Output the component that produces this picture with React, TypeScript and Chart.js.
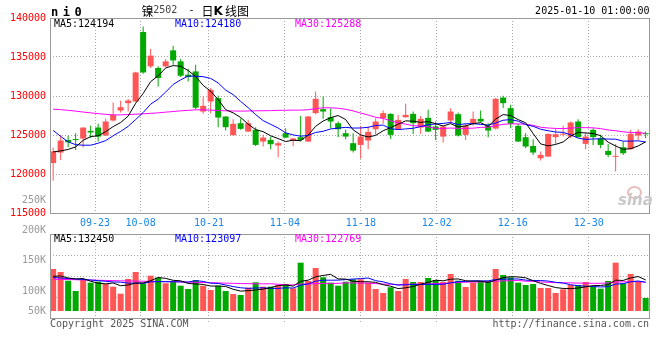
import React, { useEffect, useRef } from "react";
import { Chart, registerables } from "chart.js";

Chart.register(...registerables);

// ---------------- data ----------------
const dateTickIndex = [6, 12, 21, 31, 41, 51, 61, 71];
const dateTickLabels = ["09-23", "10-08", "10-21", "11-04", "11-18", "12-02", "12-16", "12-30"];

const opens = [121400,122750,124370,124400,124550,125530,125960,124930,126860,128140,
129080,129300,138200,133800,133590,133790,135850,134440,132730,133150,
128010,129300,129720,127370,124970,126510,125440,125660,124160,124370,
123650,125230,124290,124720,124160,127800,128310,127280,126510,125230,
123950,123730,124290,125740,127160,127710,125740,127280,127710,125960,
127200,126090,124800,126860,127670,125020,126510,127070,126170,125830,
129800,128440,126170,124720,123600,122020,122230,124720,125050,124800,
126730,123860,125660,124590,122960,122200,123430,123180,124930,125230];

const highs = [123400,125000,124890,125230,126000,126170,126430,127070,129170,129380,
129600,133100,138920,136030,133800,134740,136450,134740,133500,134010,
129940,131010,130020,127400,127030,127110,126940,126000,125020,124800,
124160,125870,124600,127450,127450,130580,129940,128440,126730,125660,
125230,126170,126090,127160,128140,127800,127580,129000,128010,127450,
128230,126730,126150,128440,127880,126430,128010,128140,126510,129700,
130020,128870,126430,125230,124460,122880,125200,125870,126170,126730,
127030,125320,125870,125020,123860,123860,124160,125660,125740,125440];

const lows = [119150,121800,123430,123090,123400,124590,124160,124900,126730,127880,
128010,129200,132850,133590,131230,133700,134010,132430,131870,128300,
127710,127800,126000,125570,124950,125660,125400,123600,123520,123180,
122150,124600,123600,124160,124100,127670,127070,125870,124720,124460,
122750,121950,123180,125020,126430,124500,125650,127200,125140,125140,
125400,124370,124030,126510,124800,124370,126170,126700,124720,125700,
128450,125870,124100,123300,122450,121720,122200,123860,124800,124590,
124700,123180,123730,123300,122150,120310,122450,123100,124370,124590];

const closes = [122900,124300,124070,124350,125950,125320,124800,126730,127580,128570,
129420,133020,133020,135170,132300,134440,134560,132600,132430,128500,
128740,130790,127240,126000,126430,125790,126510,123730,124670,123820,
123950,124670,124550,124370,127370,129640,128010,126730,125740,124800,
123000,124800,125400,126730,127800,125020,126940,127580,126510,127070,
125440,125660,126090,128010,124930,126170,127070,126730,125570,129640,
129080,126430,124160,123520,122750,122450,125140,125100,125100,126600,
124720,124800,124720,123730,122450,122260,122660,125140,125440,125100];

const volumes = [162800,154400,130200,101600,132200,124700,127500,121100,113600,94100,
135000,154400,123000,144100,138600,123000,127500,116300,107200,132200,
116300,104400,116300,101600,93300,90500,110800,125800,113600,113600,
118300,121100,109100,180300,129400,165500,139700,124700,116300,127500,
134100,134100,124700,107200,96000,111900,101600,135000,126600,126600,
137700,132200,126600,148900,130200,112700,124700,129400,129400,162800,
146100,139700,124700,118300,121100,110000,110000,96000,106300,118300,
118300,126600,113600,108000,129400,180300,123000,148900,127500,82100];

// moving-average values before enough history exists
const ma5Head = [122830, 122960, 123150, 123470];
const ma10Head = [125590, 124820, 124120, 123760, 123690, 123690, 123950, 124280, 124900];
const ma30Head = [128315,128250,128160,128060,127940,127840,127740,127650,127580,127580,
127620,127670,127710,127780,127840,127930,128010,128100,128160,128230,
128230,128190,128140,128100,128080,128060,128080,128100,128110];

const volMa5Head = [142500, 143300, 137700, 135000];
const volMa10Head = [139000, 137700, 136300, 135000, 133600, 132200, 130200, 128600, 126600];
const volMa30Head = [134100,133800,133400,132900,132400,131900,131400,130900,130400,129900,
129500,129100,128700,128300,127900,127500,127100,126700,126200,125700,
125200,124600,124000,123400,122800,122300,121900,121600,121400];

const priceTicks = [115000, 120000, 125000, 130000, 135000, 140000];
const volTickLabels = ["250K", "200K", "150K", "100K", "50K"];
const priceLegend = ["MA5:124194", "MA10:124180", "MA30:125288"];
const volLegend = ["MA5:132450", "MA10:123097", "MA30:122769"];

// ---------------- styles ----------------
const UP = "#ff5555";
const DOWN = "#00a800";
const MA_COLORS = ["#000000", "#0000ff", "#ff00ff"];
const MONO = "'DejaVu Sans Mono', monospace";
const CJK = "'Noto Sans CJK SC', sans-serif";
const GRID = "#aaaaaa";

function movingAverage(values: number[], n: number, head: number[]): number[] {
  return values.map((_, i) => {
    if (i < head.length) return head[i];
    let s = 0;
    for (let j = i - n + 1; j <= i; j++) s += values[j];
    return s / n;
  });
}

const framePlugin = {
  id: "frame",
  afterDraw(chart: any) {
    const { ctx, chartArea } = chart;
    const l = Math.round(chartArea.left);
    const t = Math.round(chartArea.top);
    const r = Math.round(chartArea.right);
    const b = Math.round(chartArea.bottom);
    ctx.save();
    ctx.strokeStyle = "#999999";
    ctx.lineWidth = 1;
    ctx.setLineDash([]);
    ctx.strokeRect(l + 0.5, t + 0.5, r - l - 1, b - t);
    ctx.restore();
  },
};

function xScale(showLabels: boolean): any {
  return {
    type: "linear",
    position: "bottom",
    min: -0.42,
    max: 79.58,
    bounds: "data",
    offset: false,
    afterBuildTicks: (s: any) => {
      s.ticks = dateTickIndex.map((k) => ({ value: (k * 80) / 79 - 0.49 }));
    },
    afterFit: (s: any) => {
      s.height = showLabels ? 17 : 7;
    },
    grid: {
      offset: false,
      color: GRID,
      lineWidth: 1,
      drawTicks: !showLabels,
      tickLength: 4,
      tickColor: GRID,
      tickBorderDash: [1, 2],
    },
    border: { display: false, dash: [1, 2] },
    ticks: {
      display: showLabels,
      autoSkip: false,
      maxRotation: 0,
      minRotation: 0,
      padding: 4,
      color: "#1a86e8",
      font: { family: MONO, size: 10 },
      callback: (_v: any, i: number) => dateTickLabels[i],
    },
  };
}

const lineDs = (values: number[], color: string) => ({
  type: "line" as const,
  data: values.map((y, i) => ({ x: i, y })),
  borderColor: color,
  borderWidth: 1,
  pointRadius: 0,
  tension: 0,
  order: 0,
});

export default function App() {
  const mainRef = useRef<HTMLCanvasElement>(null);
  const volRef = useRef<HTMLCanvasElement>(null);

  useEffect(() => {
    const colors = closes.map((c, i) => (c >= opens[i] ? UP : DOWN));
    const ma5 = movingAverage(closes, 5, ma5Head);
    const ma10 = movingAverage(closes, 10, ma10Head);
    const ma30 = movingAverage(closes, 30, ma30Head);
    const vma5 = movingAverage(volumes, 5, volMa5Head);
    const vma10 = movingAverage(volumes, 10, volMa10Head);
    const vma30 = movingAverage(volumes, 30, volMa30Head);

    const main = new Chart(mainRef.current as HTMLCanvasElement, {
      type: "bar",
      data: {
        datasets: [
          lineDs(ma5, MA_COLORS[0]),
          lineDs(ma10, MA_COLORS[1]),
          lineDs(ma30, MA_COLORS[2]),
          {
            type: "bar",
            data: opens.map((o, i) => ({ x: i, y: [o, closes[i]] })),
            backgroundColor: colors,
            barThickness: 6,
            grouped: false,
            minBarLength: 1,
            inflateAmount: 0,
            order: 1,
          },
          {
            type: "bar",
            data: lows.map((l, i) => ({ x: i, y: [l, highs[i]] })),
            backgroundColor: colors,
            barThickness: 1,
            grouped: false,
            inflateAmount: 0,
            order: 2,
          },
        ] as any,
      },
      options: {
        responsive: false,
        animation: false,
        devicePixelRatio: 1,
        events: [],
        layout: { padding: { left: 0, right: 10, top: 18, bottom: 0 } },
        plugins: { legend: { display: false }, tooltip: { enabled: false } },
        scales: {
          x: xScale(true),
          y: {
            type: "linear",
            position: "left",
            min: 115000,
            max: 140000,
            beginAtZero: false,
            bounds: "data",
            afterBuildTicks: (s: any) => {
              s.ticks = priceTicks.map((v) => ({ value: v }));
            },
            afterFit: (s: any) => {
              s.width = 50;
            },
            grid: { color: GRID, lineWidth: 1, drawTicks: false },
            border: { display: false, dash: [1, 2] },
            ticks: {
              padding: 4,
              color: "#ff0000",
              font: { family: MONO, size: 10 },
              callback: (v: any) => String(v),
            },
          },
        } as any,
      },
      plugins: [framePlugin],
    });

    const vol = new Chart(volRef.current as HTMLCanvasElement, {
      type: "bar",
      data: {
        datasets: [
          lineDs(vma5, MA_COLORS[0]),
          lineDs(vma10, MA_COLORS[1]),
          lineDs(vma30, MA_COLORS[2]),
          {
            type: "bar",
            data: volumes.map((v, i) => ({ x: i, y: v })),
            backgroundColor: colors,
            barThickness: 6,
            grouped: false,
            base: 46000,
            inflateAmount: 0,
            order: 1,
          },
        ] as any,
      },
      options: {
        responsive: false,
        animation: false,
        devicePixelRatio: 1,
        events: [],
        layout: { padding: { left: 0, right: 10, top: 9, bottom: 0 } },
        plugins: { legend: { display: false }, tooltip: { enabled: false } },
        scales: {
          x: xScale(false),
          y: {
            type: "linear",
            position: "left",
            min: 26500,
            max: 260000,
            beginAtZero: false,
            bounds: "data",
            afterBuildTicks: (s: any) => {
              s.ticks = [0.25, 0.5, 0.75].map((f) => ({ value: s.min + (s.max - s.min) * f }));
            },
            afterFit: (s: any) => {
              s.width = 50;
            },
            grid: { color: GRID, lineWidth: 1, drawTicks: false },
            border: { display: false, dash: [1, 2] },
            ticks: { display: false },
          },
        } as any,
      },
      plugins: [framePlugin],
    });

    return () => {
      main.destroy();
      vol.destroy();
    };
  }, []);

  const mono = (size = 10): React.CSSProperties => ({
    position: "absolute",
    fontFamily: MONO,
    fontSize: size,
    lineHeight: "12px",
    whiteSpace: "nowrap",
  });
  const cjk: React.CSSProperties = {
    position: "absolute",
    fontFamily: CJK,
    fontSize: 12,
    lineHeight: "14px",
    whiteSpace: "nowrap",
    color: "#000",
  };
  const volLabelTops = [194, 224, 254, 284.7, 304.7];
  const legendLefts = [54, 175, 295];

  return (
    <div
      style={{
        position: "fixed",
        left: 0,
        top: 0,
        width: 660,
        height: 360,
        background: "#ffffff",
        overflow: "hidden",
      }}
    >
      <canvas
        ref={mainRef}
        width={660}
        height={230}
        style={{ position: "absolute", left: 0, top: 0, width: 660, height: 230 }}
      />
      <canvas
        ref={volRef}
        width={660}
        height={100}
        style={{ position: "absolute", left: 0, top: 225, width: 660, height: 100 }}
      />

      {/* header */}
      <div style={{ ...mono(12), fontWeight: "bold", letterSpacing: "4.5px", left: 51, top: 5.5, lineHeight: "12px", color: "#000" }}>ni0</div>
      <div style={{ ...cjk, left: 141.5, top: 3.5 }}>镍</div>
      <div style={{ ...mono(), left: 153.3, top: 4.3, color: "#444" }}>2502</div>
      <div style={{ ...mono(), left: 188.5, top: 4.3, color: "#000" }}>-</div>
      <div style={{ ...cjk, left: 201.5, top: 3.5 }}>日</div>
      <div style={{ ...cjk, left: 213.5, top: 3.5, fontWeight: "bold", fontFamily: "'DejaVu Sans', sans-serif" }}>K</div>
      <div style={{ ...cjk, left: 225, top: 3.5 }}>线图</div>
      <div style={{ ...mono(), right: 10.5, top: 5.2, color: "#000" }}>2025-01-10 01:00:00</div>

      {/* legends */}
      {priceLegend.map((t, i) => (
        <div key={"pl" + i} style={{ ...mono(), left: legendLefts[i], top: 17.5, color: MA_COLORS[i] }}>{t}</div>
      ))}
      {volLegend.map((t, i) => (
        <div key={"vl" + i} style={{ ...mono(), left: legendLefts[i], top: 233, color: MA_COLORS[i] }}>{t}</div>
      ))}

      {/* volume axis labels */}
      {volTickLabels.map((t, i) => (
        <div key={"vt" + i} style={{ ...mono(), right: 614, top: volLabelTops[i], color: "#999" }}>{t}</div>
      ))}

      {/* sina watermark */}
      <div
        style={{
          position: "absolute",
          left: 627,
          top: 186,
          width: 11,
          height: 9,
          borderRadius: "50%",
          border: "2px solid #e9bcbc",
        }}
      />
      <div
        style={{
          position: "absolute",
          left: 618,
          top: 192,
          fontFamily: "'DejaVu Sans', sans-serif",
          fontStyle: "italic",
          fontWeight: "bold",
          fontSize: 15,
          lineHeight: "16px",
          color: "#c8c8c8",
        }}
      >
        sina
      </div>

      {/* footer */}
      <div style={{ ...mono(), left: 50, top: 318, color: "#555" }}>Copyright 2025 SINA.COM</div>
      <div style={{ ...mono(), right: 11, top: 318, color: "#555" }}>http://finance.sina.com.cn</div>
    </div>
  );
}
